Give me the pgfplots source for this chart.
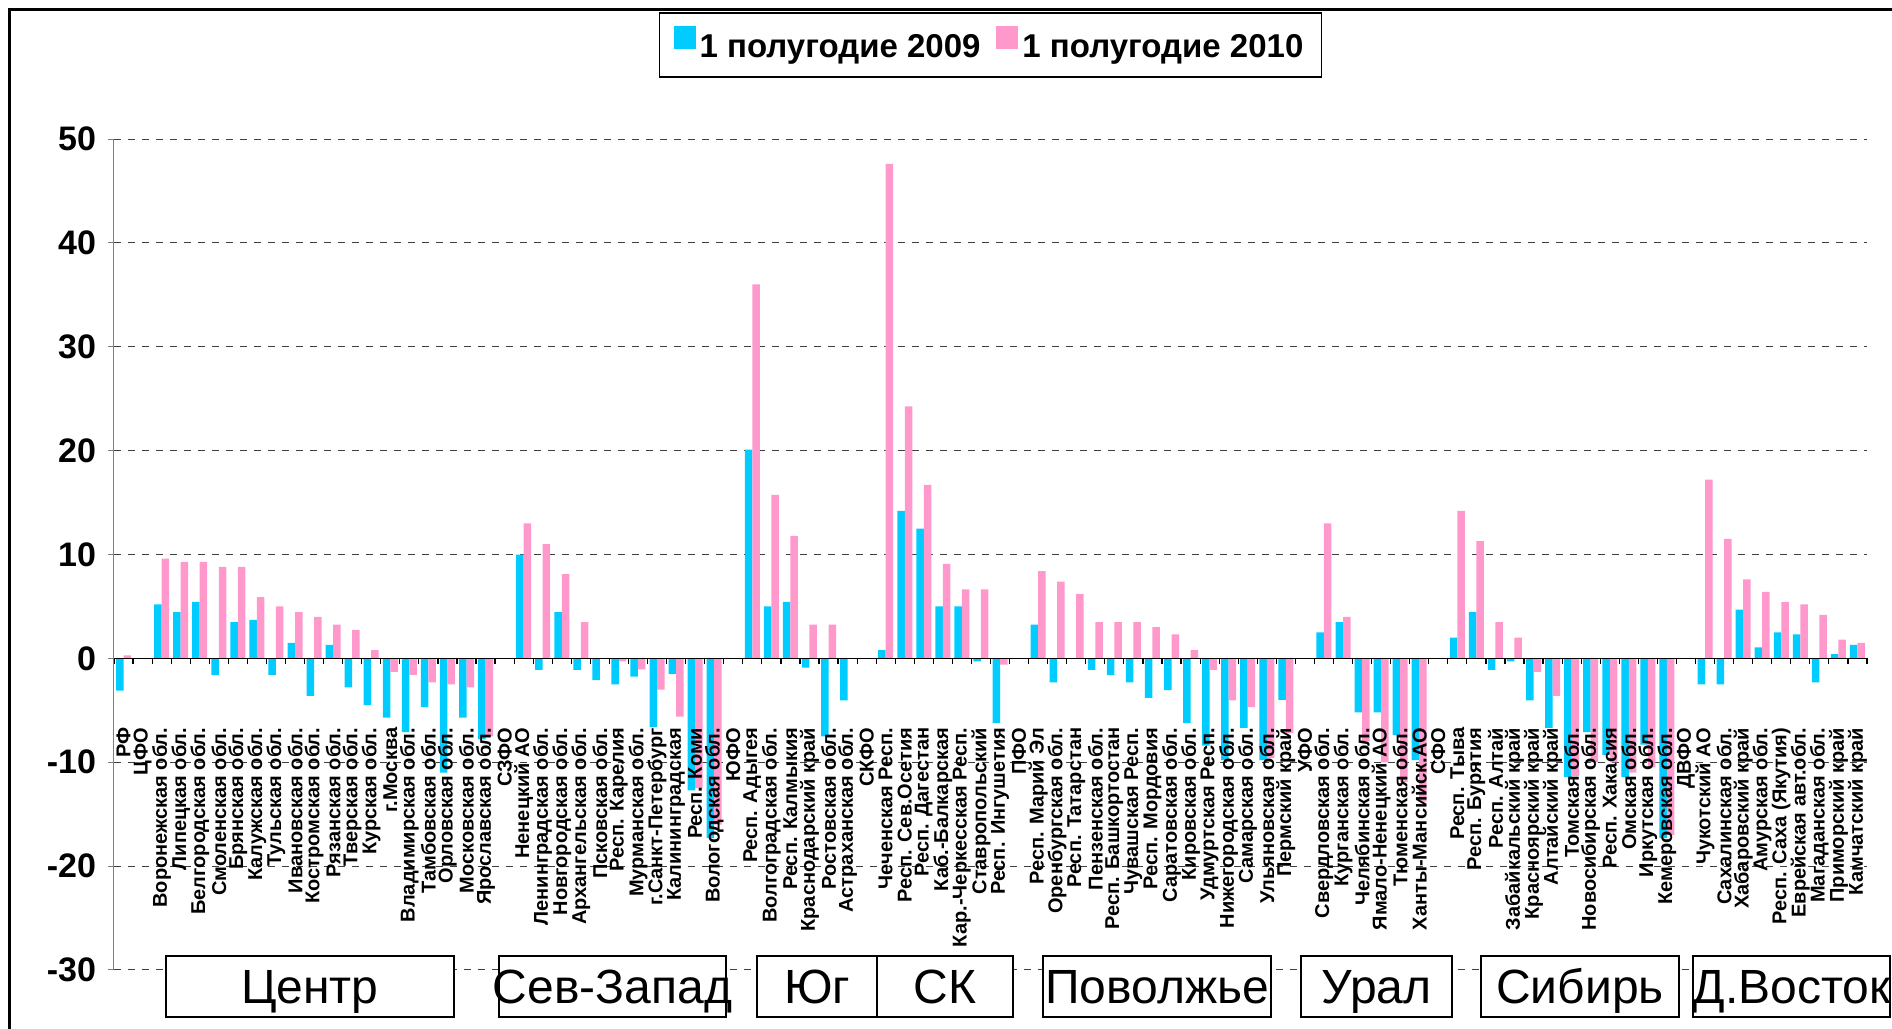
\documentclass[border=0pt]{standalone}
\usepackage{fontspec}
\setmainfont{Liberation Sans}
\usepackage{pgfplots}
\usepackage{pgfplotstable}
\pgfplotsset{compat=1.18}

\definecolor{c09}{HTML}{00CCFF}
\definecolor{c10}{HTML}{FF99CC}
\definecolor{gridc}{HTML}{404040}

% tick labels above the bars, grid below them
\pgfplotsset{
  layers/labels on top/.define layer set={
    axis background, axis grid, main, axis ticks, axis lines,
    axis tick labels, axis descriptions, axis foreground
  }{
    grid style={/pgfplots/on layer=axis grid},
    tick style={/pgfplots/on layer=axis ticks},
    axis line style={/pgfplots/on layer=axis lines},
    label style={/pgfplots/on layer=axis descriptions},
    legend style={/pgfplots/on layer=axis descriptions},
    ticklabel style={/pgfplots/on layer=axis tick labels},
  },
}

% x = region number, y09 / y10 = 1st half 2009 / 2010
\pgfplotstableread{
x y09 y10
1 -3.1 0.3
2 0 0
3 5.2 9.6
4 4.45 9.3
5 5.45 9.3
6 -1.6 8.8
7 3.5 8.8
8 3.7 5.9
9 -1.6 5.0
10 1.5 4.45
11 -3.6 4.0
12 1.3 3.25
13 -2.8 2.75
14 -4.5 0.8
15 -5.7 -1.3
16 -7.1 -1.6
17 -4.7 -2.3
18 -11.0 -2.5
19 -5.7 -2.8
20 -7.8 -7.5
21 0 0
22 10.0 13.0
23 -1.1 11.0
24 4.45 8.1
25 -1.1 3.5
26 -2.1 0
27 -2.5 -0.3
28 -1.75 -1.05
29 -6.6 -3.0
30 -1.5 -5.6
31 -12.7 -12.5
32 -17.3 -16.0
33 0 0
34 20.1 36.0
35 5.0 15.75
36 5.45 11.8
37 -0.9 3.25
38 -7.5 3.25
39 -4.05 0
40 0 0
41 0.8 47.6
42 14.2 24.25
43 12.5 16.7
44 5.0 9.1
45 5.0 6.65
46 -0.3 6.65
47 -6.2 -0.6
48 0 0
49 3.25 8.4
50 -2.3 7.4
51 0 6.2
52 -1.1 3.5
53 -1.6 3.5
54 -2.3 3.5
55 -3.8 3.0
56 -3.05 2.3
57 -6.2 0.8
58 -8.4 -1.1
59 -9.8 -4.05
60 -6.7 -4.7
61 -9.8 -9.6
62 -4.0 -7.2
63 0 0
64 2.5 13.0
65 3.5 4.0
66 -5.2 -8.0
67 -5.2 -10.0
68 -7.4 -11.9
69 -9.8 -13.8
70 0 0
71 2.0 14.2
72 4.45 11.3
73 -1.1 3.5
74 -0.3 2.0
75 -4.05 -1.3
76 -6.7 -3.6
77 -11.4 -11.3
78 -7.1 -10.0
79 -9.3 -10.0
80 -11.4 -11.0
81 -8.3 -10.5
82 -17.3 -17.0
83 0 0
84 -2.5 17.2
85 -2.5 11.5
86 4.7 7.6
87 1.05 6.4
88 2.5 5.45
89 2.3 5.2
90 -2.3 4.2
91 0.4 1.8
92 1.3 1.5
}\dataRegions

\newcommand{\regionbox}[4]{%
  \draw[line width=1pt, fill=white] (axis cs:#1,-28.65) rectangle (axis cs:#2,-34.52);
  \node[font=\fontsize{24}{24}\selectfont, inner sep=0pt, anchor=base] at (axis cs:#3,-33.2) {#4};}

\begin{document}
\begin{tikzpicture}
\begin{axis}[
  set layers=labels on top,
  at={(0,0)}, anchor=south west,
  scale only axis, width=876.5pt, height=415.5pt,
  ybar=0pt, bar width=3.75pt,
  xmin=0.5, xmax=92.5, ymin=-30, ymax=50,
  enlargelimits=false, clip=false,
  axis x line*=middle, axis y line*=left,
  hide obscured x ticks=false, hide obscured y ticks=false,
  xtick={1,...,92},
  xticklabels={РФ, ЦФО, Воронежская обл., Липецкая обл., Белгородская обл., Смоленская обл., Брянская обл., Калужская обл., Тульская обл., Ивановская обл., Костромская обл., Рязанская обл., Тверская обл., Курская обл., г.Москва, Владимирская обл., Тамбовская обл., Орловская обл., Московская обл., Ярославская обл., СЗФО, Ненецкий АО, Ленинградская обл., Новгородская обл., Архангельская обл., Псковская обл., Респ. Карелия, Мурманская обл., г.Санкт-Петербург, Калининградская, Респ. Коми, Вологодская обл., ЮФО, Респ. Адыгея, Волгоградская обл., Респ. Калмыкия, Краснодарский край, Ростовская обл., Астраханская обл., СКФО, Чеченская Респ., Респ. Сев.Осетия, Респ. Дагестан, Каб.-Балкарская, Кар.-Черкесская Респ., Ставропольский, Респ. Ингушетия, ПФО, Респ. Марий Эл, Оренбургская обл., Респ. Татарстан, Пензенская обл., Респ. Башкортостан, Чувашская Респ., Респ. Мордовия, Саратовская обл., Кировская обл., Удмуртская Респ., Нижегородская обл., Самарская обл., Ульяновская обл., Пермский край, УФО, Свердловская обл., Курганская обл., Челябинская обл., Ямало-Ненецкий АО, Тюменская обл., Ханты-Мансийск.АО, СФО, Респ. Тыва, Респ. Бурятия, Респ. Алтай, Забайкальский край, Красноярский край, Алтайский край, Томская обл., Новосибирская обл., Респ. Хакасия, Омская обл., Иркутская обл., Кемеровская обл., ДВФО, Чукотский АО, Сахалинская обл., Хабаровский край, Амурская обл., Респ. Саха (Якутия), Еврейская авт.обл., Магаданская обл., Приморский край, Камчатский край},
  minor xtick={0.5,1.5,...,92.5},
  major x tick style={draw=none},
  minor x tick style={black, line width=0.6pt},
  tick align=outside, major tick length=3pt, minor tick length=3pt,
  xticklabel style={rotate=90, anchor=east, inner sep=0pt,
    font=\bfseries\fontsize{10}{10}\selectfont},
  xticklabel shift=31.5pt,
  ytick={-30,-20,...,50},
  yticklabels={-30,-20,-10,0,10,20,30,40,50},
  yticklabel style={font=\bfseries\fontsize{17}{17}\selectfont, xshift=-2.5pt},
  ytick style={gray, line width=0.5pt},
  ymajorgrids,
  major grid style={gridc, line width=0.5pt, dash pattern=on 3.5pt off 3.5pt},
  x axis line style={black, line width=0.8pt},
  y axis line style={gray, line width=0.5pt},
  legend columns=2,
  legend style={at={(0.5,1)}, anchor=south, yshift=30.5pt,
    draw=black, line width=0.8pt, inner xsep=7pt, inner ysep=6.5pt,
    font=\bfseries\fontsize{16.5}{16.5}\selectfont,
    /tikz/every even column/.append style={column sep=6pt}},
  legend image code/.code={\fill[#1, draw=none] (0pt,-1pt) rectangle (11pt,10.5pt);},
]
\addplot[fill=c09, draw=none] table[x=x, y=y09] {\dataRegions};
\addplot[fill=c10, draw=none] table[x=x, y=y10] {\dataRegions};
\legend{1 полугодие 2009, 1 полугодие 2010}

\regionbox{3.23}{18.34}{10.785}{Центр}
\regionbox{20.71}{32.62}{26.665}{Сев-Запад}
\regionbox{34.25}{40.54}{37.395}{Юг}
\regionbox{40.54}{47.68}{44.11}{СК}
\regionbox{49.26}{61.22}{55.24}{Поволжье}
\regionbox{62.8}{70.72}{66.76}{Урал}
\regionbox{72.24}{82.63}{77.435}{Сибирь}
\regionbox{83.37}{93.7}{88.535}{Д.Восток}
\end{axis}
\draw[line width=1.5pt] (-52pt,-40pt) -- (-52pt,480pt) -- (900pt,480pt);
\pgfresetboundingbox
\useasboundingbox (-57pt,-29.5pt) rectangle (889pt,485pt);
\end{tikzpicture}
\end{document}
